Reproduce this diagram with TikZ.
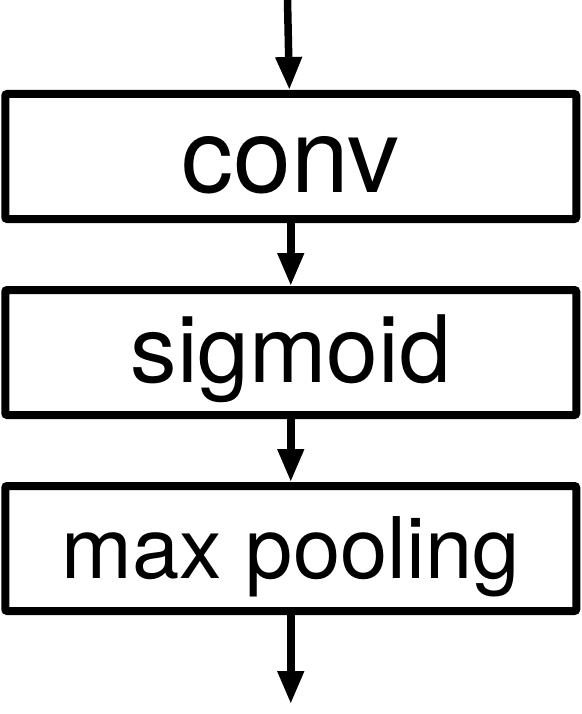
\documentclass[tikz,border=0pt]{standalone}
\usepackage{fontspec}
\setmainfont{TeX Gyre Heros}
\usetikzlibrary{arrows.meta,positioning}

\begin{document}
\begin{tikzpicture}
[
    layer/.style={draw, line width=8pt, rounded corners=2pt, minimum width=571pt, minimum height=125pt, inner sep=0pt, text height=60pt, text depth=0pt},
    flow/.style={line width=7.5pt, -{Triangle[width=25pt, length=33pt]}},
]
\useasboundingbox (0,0) rectangle (581pt,-714pt);
\node [layer, text height=73pt, font=\fontsize{104pt}{110pt}\selectfont] (conv) at (290.75pt,-156.5pt) {conv};
\node [layer, below=63pt of conv, font=\fontsize{93pt}{100pt}\selectfont] (sigmoid) {sigmoid};
\node [layer, below=63pt of sigmoid, font=\fontsize{85pt}{90pt}\selectfont] (pool) {max pooling};
\coordinate (input) at (287.5pt,0pt);
\coordinate (output) at (290.75pt,-704pt);
\draw [flow] (input) -- (conv);
\draw [flow] (conv) -- (sigmoid);
\draw [flow] (sigmoid) -- (pool);
\draw [flow] (pool) -- (output);
\end{tikzpicture}
\end{document}
